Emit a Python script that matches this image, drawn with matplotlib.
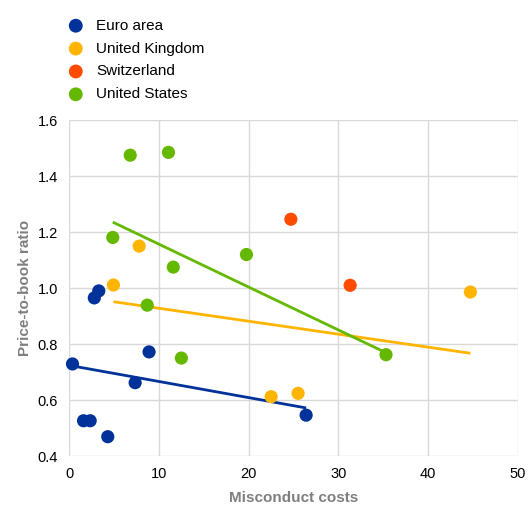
import matplotlib
matplotlib.use('Agg')
import matplotlib.pyplot as plt
import numpy as np

plt.rcParams['font.family'] = ['Liberation Sans', 'DejaVu Sans']

# misconduct costs (x) and price-to-book ratio (y) per bank
euro_x = [0.37, 3.3, 2.8, 8.9, 7.35, 1.6, 2.34, 4.3, 26.4]
euro_y = [0.729, 0.99, 0.965, 0.772, 0.662, 0.526, 0.526, 0.469, 0.546]
uk_x = [4.93, 7.8, 22.5, 25.5, 44.7]
uk_y = [1.011, 1.15, 0.612, 0.624, 0.986]
ch_x = [24.7, 31.3]
ch_y = [1.246, 1.010]
us_x = [6.8, 11.06, 4.86, 11.6, 19.75, 8.7, 12.5, 35.3]
us_y = [1.475, 1.485, 1.181, 1.075, 1.12, 0.939, 0.75, 0.762]

series = [
    ('Euro area', euro_x, euro_y, '#003299', True),
    ('United Kingdom', uk_x, uk_y, '#FFB400', True),
    ('Switzerland', ch_x, ch_y, '#FF4B00', False),
    ('United States', us_x, us_y, '#65B800', True),
]

fig = plt.figure(figsize=(5.28, 5.05), dpi=100)
ax = fig.add_axes([0.131, 0.097, 0.85, 0.665])

handles = []
for label, x, y, color, trend in series:
    x = np.array(x)
    y = np.array(y)
    h = ax.scatter(x, y, s=90, color=color, edgecolors='none', zorder=3,
                   clip_on=False, label=label)
    handles.append(h)
    if trend:
        k, b = np.polyfit(x, y, 1)
        xs = np.array([x.min(), x.max()])
        ax.plot(xs, k * xs + b, color=color, lw=2.0, zorder=2,
                solid_capstyle='butt')

ax.set_xlim(0, 50)
ax.set_ylim(0.4, 1.6)
ax.set_xticks(np.arange(0, 51, 10))
ax.set_yticks(np.arange(0.4, 1.61, 0.2))
ax.set_yticklabels(['%.1f' % v for v in np.arange(0.4, 1.61, 0.2)])
ax.grid(color='#d9d9d9', lw=1.0)
ax.set_axisbelow(True)
for s in ax.spines.values():
    s.set_visible(False)
ax.tick_params(length=0, labelsize=10.5, colors='#000000', pad=8)

ax.set_xlabel('Misconduct costs', fontsize=11, fontweight='bold',
              color='#7f7f7f', labelpad=7)
ax.set_ylabel('Price-to-book ratio', fontsize=11, fontweight='bold',
              color='#7f7f7f', labelpad=4)

fig.legend(handles=handles, loc='upper left', bbox_to_anchor=(0.103, 0.975),
           frameon=False, fontsize=11, handletextpad=0.35,
           labelspacing=0.58, borderaxespad=0, scatterpoints=1,
           markerscale=1.05)

fig.savefig('out.png', dpi=100)
